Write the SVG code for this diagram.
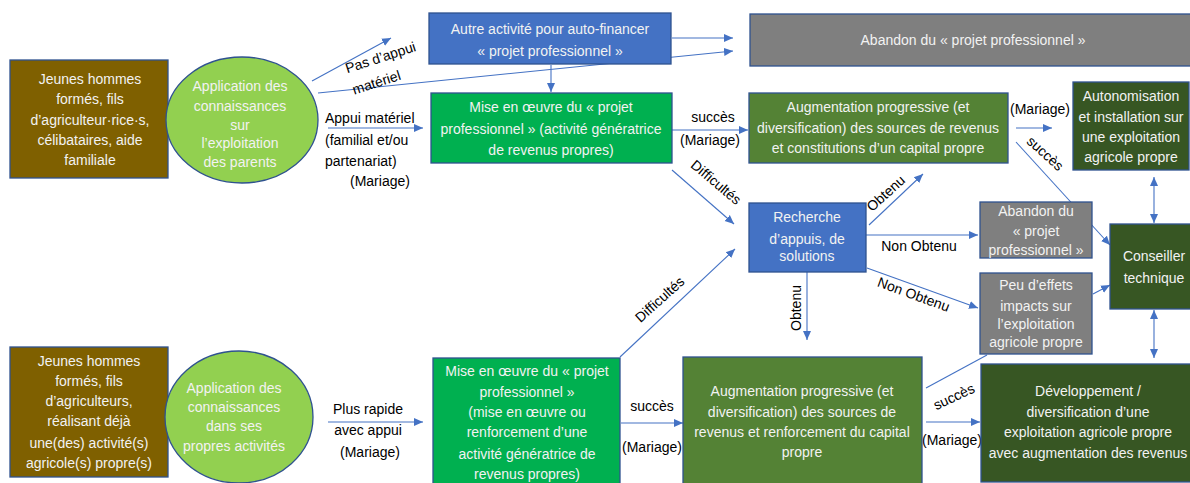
<svg xmlns="http://www.w3.org/2000/svg" width="1190" height="483" viewBox="0 0 1190 483">
<style>
.n{stroke:#2F528F;stroke-width:1.3}
.t{font-family:"Liberation Sans",Arial,sans-serif;font-size:14px;fill:#F2F2F2;text-anchor:middle}
.l{font-family:"Liberation Sans",Arial,sans-serif;font-size:14px;fill:#000;text-anchor:middle}
.c{stroke:#4472C4;stroke-width:1.1;fill:none}
.a{marker-end:url(#ah)}
.d{marker-start:url(#ahs);marker-end:url(#ah)}
</style>
<defs>
<marker id="ah" markerUnits="userSpaceOnUse" markerWidth="10" markerHeight="10" refX="9" refY="5" orient="auto"><path d="M0,1 L9,5 L0,9 Z" fill="#4472C4"/></marker>
<marker id="ahs" markerUnits="userSpaceOnUse" markerWidth="10" markerHeight="10" refX="0" refY="5" orient="auto"><path d="M9,1 L0,5 L9,9 Z" fill="#4472C4"/></marker>
</defs>
<rect width="1190" height="483" fill="#fff"/>
<g id="connectors">
<line class="c a" x1="312" y1="81" x2="391" y2="38"/>
<line class="c a" x1="318" y1="93" x2="733" y2="51"/>
<line class="c a" x1="672" y1="38" x2="733" y2="38"/>
<line class="c a" x1="551" y1="65" x2="551" y2="92"/>
<line class="c a" x1="328" y1="128" x2="423" y2="128"/>
<line class="c a" x1="672" y1="130" x2="748" y2="130"/>
<line class="c a" x1="1016" y1="128" x2="1052" y2="128"/>
<line class="c a" x1="1016" y1="142" x2="1110" y2="245"/>
<line class="c a" x1="672" y1="170" x2="734" y2="224"/>
<line class="c a" x1="620" y1="357" x2="735" y2="249"/>
<line class="c a" x1="869" y1="225" x2="923" y2="174"/>
<line class="c a" x1="866" y1="235" x2="978" y2="235"/>
<line class="c a" x1="867" y1="268" x2="978" y2="308"/>
<line class="c a" x1="807" y1="272" x2="807" y2="340"/>
<line class="c a" x1="1093" y1="294" x2="1110" y2="285"/>
<line class="c d" x1="1154" y1="177" x2="1154" y2="223"/>
<line class="c d" x1="1154" y1="310" x2="1154" y2="358"/>
<line class="c a" x1="328" y1="422" x2="423" y2="422"/>
<line class="c a" x1="621" y1="423" x2="683" y2="423"/>
<line class="c a" x1="926" y1="422" x2="980" y2="422"/>
<line class="c" x1="926" y1="388" x2="987" y2="355"/>
<g id="labels">
<text class="l" transform="translate(382,62) rotate(-18)">Pas d’appui</text>
<text class="l" transform="translate(378,87) rotate(-18)">matériel</text>
<text class="l" style="text-anchor:start" x="325" y="123">Appui matériel</text>
<text class="l" style="text-anchor:start" x="325" y="145">(familial et/ou</text>
<text class="l" style="text-anchor:start" x="325" y="166">partenariat)</text>
<text class="l" style="text-anchor:start" x="350" y="186">(Mariage)</text>
<text class="l" x="713" y="122">succès</text>
<text class="l" x="710" y="145">(Mariage)</text>
<text class="l" x="1040" y="114">(Mariage)</text>
<text class="l" transform="translate(1042,157) rotate(42)">succès</text>
<text class="l" transform="translate(713,186) rotate(40)">Difficultés</text>
<text class="l" transform="translate(889,197) rotate(-42)">Obtenu</text>
<text class="l" x="919" y="251">Non Obtenu</text>
<text class="l" transform="translate(912,299) rotate(20)">Non Obtenu</text>
<text class="l" transform="translate(801,308) rotate(-90)">Obtenu</text>
<text class="l" transform="translate(663,303) rotate(-42)">Difficultés</text>
<text class="l" x="368" y="414">Plus rapide</text>
<text class="l" x="368" y="435">avec appui</text>
<text class="l" x="370" y="457">(Mariage)</text>
<text class="l" x="652" y="411">succès</text>
<text class="l" x="652" y="452">(Mariage)</text>
<text class="l" transform="translate(956,401) rotate(-25)">succès</text>
<text class="l" x="952" y="445">(Mariage)</text>
</g>
</g>
<g id="n_jeunes1"><rect class="n" x="10" y="60" width="158" height="118" fill="#7F6000"/>
<text class="t" x="90" y="84">Jeunes hommes</text><text class="t" x="90" y="104">formés,  fils</text><text class="t" x="90" y="125">d’agriculteur·rice·s,</text><text class="t" x="90" y="145">célibataires, aide</text><text class="t" x="90" y="165">familiale</text></g>
<g id="n_app1"><ellipse class="n" cx="242" cy="120" rx="76" ry="63" fill="#92D050"/>
<text class="t" x="240" y="91">Application des</text><text class="t" x="240" y="111">connaissances</text><text class="t" x="240" y="130">sur</text><text class="t" x="240" y="148">l’exploitation</text><text class="t" x="240" y="167">des parents</text></g>
<g id="n_autre"><rect class="n" x="429" y="13" width="242" height="51" fill="#4472C4"/>
<text class="t" x="550" y="34">Autre activité pour auto-financer</text><text class="t" x="550" y="56">« projet professionnel »</text></g>
<g id="n_abandon1"><rect class="n" x="750" y="14" width="445" height="52" fill="#7F7F7F"/>
<text class="t" x="973" y="45">Abandon du « projet professionnel »</text></g>
<g id="n_mise1"><rect class="n" x="431" y="93" width="241" height="70" fill="#00B050"/>
<text class="t" x="551" y="112">Mise en œuvre du « projet</text><text class="t" x="551" y="134">professionnel » (activité génératrice</text><text class="t" x="551" y="155">de revenus propres)</text></g>
<g id="n_aug1"><rect class="n" x="749" y="93" width="259" height="70" fill="#548235"/>
<text class="t" x="878" y="112">Augmentation progressive (et</text><text class="t" x="878" y="133">diversification) des sources de revenus</text><text class="t" x="878" y="153">et constitutions d’un capital propre</text></g>
<g id="n_auto"><rect class="n" x="1073" y="82" width="116" height="88" fill="#375623"/>
<text class="t" x="1131" y="101">Autonomisation</text><text class="t" x="1131" y="122">et installation sur</text><text class="t" x="1131" y="142">une exploitation</text><text class="t" x="1131" y="162">agricole propre</text></g>
<g id="n_rech"><rect class="n" x="749" y="203" width="117" height="69" fill="#4472C4"/>
<text class="t" x="807" y="222">Recherche</text><text class="t" x="807" y="244">d’appuis, de</text><text class="t" x="807" y="261">solutions</text></g>
<g id="n_abandon2"><rect class="n" x="980" y="202" width="112" height="56" fill="#7F7F7F"/>
<text class="t" x="1036" y="216">Abandon du</text><text class="t" x="1036" y="236">« projet</text><text class="t" x="1036" y="255">professionnel »</text></g>
<g id="n_peu"><rect class="n" x="980" y="273" width="112" height="81" fill="#7F7F7F"/>
<text class="t" x="1036" y="290">Peu d’effets</text><text class="t" x="1036" y="311">impacts sur</text><text class="t" x="1036" y="329">l’exploitation</text><text class="t" x="1036" y="347">agricole propre</text></g>
<g id="n_cons"><rect class="n" x="1110" y="224" width="82" height="85" fill="#375623"/>
<text class="t" x="1154" y="261">Conseiller</text><text class="t" x="1154" y="283">technique</text></g>
<g id="n_jeunes2"><rect class="n" x="10" y="347" width="158" height="130" fill="#7F6000"/>
<text class="t" x="89" y="366">Jeunes hommes</text><text class="t" x="89" y="386">formés, fils</text><text class="t" x="89" y="406">d’agriculteurs,</text><text class="t" x="89" y="426">réalisant déjà</text><text class="t" x="89" y="448">une(des) activité(s)</text><text class="t" x="89" y="468">agricole(s) propre(s)</text></g>
<g id="n_app2"><ellipse class="n" cx="239" cy="417" rx="74" ry="66" fill="#92D050"/>
<text class="t" x="234" y="393">Application des</text><text class="t" x="234" y="412">connaissances</text><text class="t" x="234" y="431">dans ses</text><text class="t" x="234" y="451">propres activités</text></g>
<g id="n_mise2"><rect class="n" x="433" y="358" width="187" height="130" fill="#00B050"/>
<text class="t" x="527" y="376">Mise en œuvre du « projet</text><text class="t" x="527" y="397">professionnel »</text><text class="t" x="527" y="417">(mise en œuvre ou</text><text class="t" x="527" y="437">renforcement d’une</text><text class="t" x="527" y="459">activité génératrice de</text><text class="t" x="527" y="479">revenus propres)</text></g>
<g id="n_aug2"><rect class="n" x="683" y="357" width="239" height="130" fill="#548235"/>
<text class="t" x="802" y="396">Augmentation progressive (et</text><text class="t" x="802" y="417">diversification) des sources de</text><text class="t" x="802" y="437">revenus et renforcement du capital</text><text class="t" x="802" y="457">propre</text></g>
<g id="n_dev"><rect class="n" x="981" y="364" width="212" height="118" fill="#375623"/>
<text class="t" x="1088" y="396">Développement /</text><text class="t" x="1088" y="417">diversification d’une</text><text class="t" x="1088" y="437">exploitation agricole propre</text><text class="t" x="1088" y="458">avec augmentation des revenus</text></g>
</svg>
